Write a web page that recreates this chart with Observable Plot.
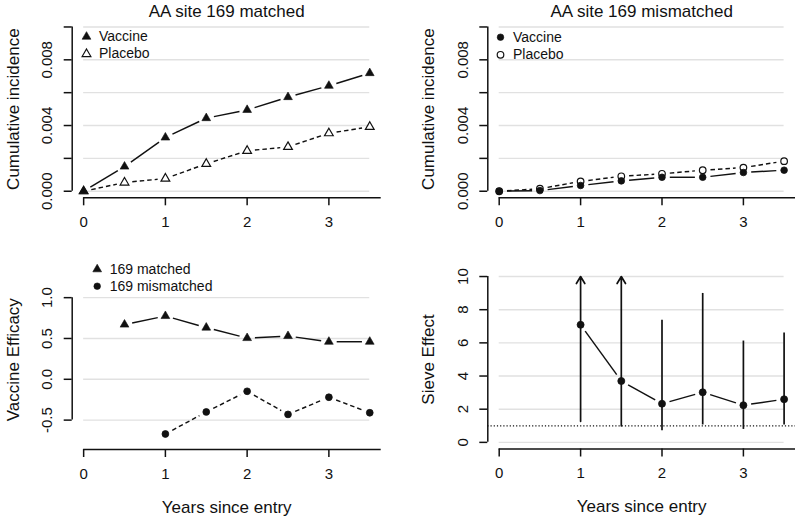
<!DOCTYPE html>
<html>
<head>
<meta charset="utf-8">
<script src="https://cdn.jsdelivr.net/npm/d3@7"></script>
<script src="https://cdn.jsdelivr.net/npm/@observablehq/plot@0.6"></script>
<style>
  html, body { margin: 0; padding: 0; background: #ffffff; }
  #chart { position: relative; width: 800px; height: 521px; background: #ffffff; }
  #chart svg { position: absolute; }
</style>
</head>
<body>
<div id="chart"></div>
<script>
// ---------------- data ----------------
const years = [0, 0.5, 1, 1.5, 2, 2.5, 3, 3.5];

// cumulative incidence, AA site 169 matched
const matchedVaccine = [0, 0.00150, 0.00327, 0.00445, 0.00495, 0.00573, 0.00642, 0.00719];
const matchedPlacebo = [0, 0.00053, 0.00077, 0.00167, 0.00246, 0.00270, 0.00353, 0.00392];

// cumulative incidence, AA site 169 mismatched
const mismatchedVaccine = [0, 0.00004, 0.00035, 0.00063, 0.00085, 0.00085, 0.00114, 0.00128];
const mismatchedPlacebo = [0, 0.00015, 0.00060, 0.00091, 0.00106, 0.00128, 0.00144, 0.00183];

// vaccine efficacy
const veMatched    = [null, 0.67, 0.775, 0.633, 0.505, 0.53, 0.46, 0.46];
const veMismatched = [null, null, -0.67, -0.40, -0.147, -0.43, -0.22, -0.41];

// sieve effect with confidence limits (upper limits of the first two lie beyond the axis)
const sieveYears  = [1, 1.5, 2, 2.5, 3, 3.5];
const sieveEffect = [7.09, 3.70, 2.33, 3.02, 2.24, 2.60];
const sieveLower  = [1.27, 1.00, 0.70, 1.05, 0.78, 1.05];
const sieveUpper  = [Infinity, Infinity, 7.36, 8.98, 6.11, 6.59];
const sieveNull   = [1];

// ticks and labels
const xTicks = [0, 1, 2, 3];
const incidenceTicks  = [0, 0.002, 0.004, 0.006, 0.008, 0.010];
const incidenceLabels = ["0.000", "", "0.004", "", "0.008", ""];
const veTicks  = [-0.5, 0, 0.5, 1];
const veLabels = ["-0.5", "0.0", "0.5", "1.0"];
const sieveTicks  = [0, 2, 4, 6, 8, 10];
const sieveLabels = ["0", "2", "4", "6", "8", "10"];

const titles = ["AA site 169 matched", "AA site 169 mismatched"];
const yTitles = ["Cumulative incidence", "Cumulative incidence", "Vaccine Efficacy", "Sieve Effect"];
const xTitle = "Years since entry";
const armLabels = ["Vaccine", "Placebo"];
const veLabelsLegend = ["169 matched", "169 mismatched"];

// ---------------- style ----------------
const INK = "#111111";
const GRID = "#e1e1e1";
const FONT = "'Liberation Sans', Arial, Helvetica, sans-serif";
const LW = 1.45;
const AXW = 1.5;
const GAP = 7.8;

function series(xs, ys) {
  return xs.map((x, i) => ({x, y: ys[i]})).filter(d => d.y != null);
}
function gapLine(pts, dash) {
  const segs = d3.pairs(pts).map(([a, b]) => ({x1: a.x, y1: a.y, x2: b.x, y2: b.y}));
  return Plot.arrow(segs, {
    x1: "x1", y1: "y1", x2: "x2", y2: "y2",
    headLength: 0, insetStart: GAP, insetEnd: GAP, bend: 0,
    stroke: INK, strokeWidth: LW, strokeDasharray: dash || null, strokeLinecap: "butt"
  });
}
function legendEntry(label, symbol, filled, dx, dy, r) {
  return [
    Plot.dot([label], {frameAnchor: "top-left", dx, dy, symbol, r,
      fill: filled ? INK : "none", stroke: INK, strokeWidth: filled ? 0.6 : 1.2}),
    Plot.text([label], {text: d => d, frameAnchor: "top-left", dx: dx + 12.5, dy,
      textAnchor: "start", lineAnchor: "middle", fontSize: 14})
  ];
}

function drawPanel(cfg) {
  const {left, top, width, height, mL, mR, mT, mB, xDomain, yDomain, yTicks, yLabels,
         title, yTitle, xLabel, marks} = cfg;
  const yLab = yTicks.map((v, i) => ({v, t: yLabels[i]})).filter(d => d.t);
  const svg = Plot.plot({
    width, height,
    marginLeft: mL, marginRight: mR, marginTop: mT, marginBottom: mB,
    x: {domain: xDomain},
    y: {domain: yDomain},
    style: {fontFamily: FONT, fontSize: "15px", color: INK, background: "transparent", overflow: "visible"},
    marks: [
      Plot.ruleY(yTicks, {y: d => d, x1: d3.min(years), x2: d3.max(years), stroke: GRID, strokeWidth: 1.4}),
      ...marks,
      Plot.ruleX([xDomain[0]], {y1: yTicks[0], y2: yTicks[yTicks.length - 1], stroke: INK, strokeWidth: AXW}),
      Plot.ruleY([yDomain[0]], {x1: xTicks[0], x2: xDomain[1], stroke: INK, strokeWidth: AXW}),
      Plot.axisX({ticks: xTicks, tickSize: 8, tickFormat: () => "", strokeWidth: AXW}),
      Plot.axisY({ticks: yTicks, tickSize: 8, tickFormat: () => "", strokeWidth: AXW}),
      Plot.text(xTicks, {x: d => d, text: d => String(d), frameAnchor: "bottom", dy: 24.4,
        textAnchor: "middle", lineAnchor: "middle", fontSize: 15}),
      Plot.text(yLab, {y: "v", text: "t", frameAnchor: "left", dx: -25, rotate: -90,
        textAnchor: "middle", lineAnchor: "middle", fontSize: 15}),
      title ? Plot.text([title], {text: d => d, frameAnchor: "top", dy: -8.7, fontSize: 17,
        textAnchor: "middle", lineAnchor: "middle"}) : null,
      Plot.text([yTitle], {text: d => d, frameAnchor: "left", dx: -59, rotate: -90, fontSize: 17,
        textAnchor: "middle", lineAnchor: "middle"}),
      xLabel ? Plot.text([xLabel], {text: d => d, frameAnchor: "bottom", dy: 57.7, fontSize: 17,
        textAnchor: "middle", lineAnchor: "middle"}) : null
    ]
  });
  svg.style.left = left + "px";
  svg.style.top = top + "px";
  document.getElementById("chart").appendChild(svg);
}

const incDomain = [-0.0004, 0.0104];
const xDom = [-0.14, 3.64];

// Panel 1: matched cumulative incidence
const p1v = series(years, matchedVaccine), p1p = series(years, matchedPlacebo);
drawPanel({
  left: 0, top: 0, width: 400, height: 260, mL: 71.7, mR: 19.3, mT: 19.9, mB: 62.7,
  xDomain: xDom, yDomain: incDomain, yTicks: incidenceTicks, yLabels: incidenceLabels,
  title: titles[0], yTitle: yTitles[0],
  marks: [
    gapLine(p1v), gapLine(p1p, "4.5,3"),
    Plot.dot(p1v, {x: "x", y: "y", symbol: "triangle", r: 3.25, fill: INK, stroke: INK, strokeWidth: 0.6}),
    Plot.dot(p1p, {x: "x", y: "y", symbol: "triangle", r: 3.25, fill: "none", stroke: INK, strokeWidth: 1.2}),
    ...legendEntry(armLabels[0], "triangle", true, 14.3, 16.3, 3.25),
    ...legendEntry(armLabels[1], "triangle", false, 14.3, 33.6, 3.25)
  ]
});

// Panel 2: mismatched cumulative incidence
const p2v = series(years, mismatchedVaccine), p2p = series(years, mismatchedPlacebo);
drawPanel({
  left: 400, top: 0, width: 400, height: 260, mL: 87.3, mR: 5, mT: 19.9, mB: 62.7,
  xDomain: xDom, yDomain: incDomain, yTicks: incidenceTicks, yLabels: incidenceLabels,
  title: titles[1], yTitle: yTitles[1],
  marks: [
    gapLine(p2v), gapLine(p2p, "4.5,3"),
    Plot.dot(p2v, {x: "x", y: "y", r: 3.3, fill: INK, stroke: INK, strokeWidth: 0.8}),
    Plot.dot(p2p, {x: "x", y: "y", r: 3.3, fill: "none", stroke: INK, strokeWidth: 1.2}),
    ...legendEntry(armLabels[0], "circle", true, 12.7, 16.8, 3.3),
    ...legendEntry(armLabels[1], "circle", false, 12.7, 34.4, 3.3)
  ]
});

// Panel 3: vaccine efficacy
const p3m = series(years, veMatched), p3x = series(years, veMismatched);
drawPanel({
  left: 0, top: 260, width: 400, height: 261, mL: 71.7, mR: 19.3, mT: 9.4, mB: 72,
  xDomain: xDom, yDomain: [-0.86, 1.34], yTicks: veTicks, yLabels: veLabels,
  yTitle: yTitles[2], xLabel: xTitle,
  marks: [
    gapLine(p3m), gapLine(p3x, "4.5,3"),
    Plot.dot(p3m, {x: "x", y: "y", symbol: "triangle", r: 3.25, fill: INK, stroke: INK, strokeWidth: 0.6}),
    Plot.dot(p3x, {x: "x", y: "y", r: 3.4, fill: INK, stroke: INK, strokeWidth: 0.8}),
    ...legendEntry(veLabelsLegend[0], "triangle", true, 25, -0.6, 3.25),
    ...legendEntry(veLabelsLegend[1], "circle", true, 25, 16.3, 3.3)
  ]
});

// Panel 4: sieve effect
const sieve = sieveYears.map((x, i) => ({x, est: sieveEffect[i], lo: sieveLower[i], hi: sieveUpper[i]}));
const sieveTop = sieveTicks[sieveTicks.length - 1];
const p4 = series(sieveYears, sieveEffect);
drawPanel({
  left: 400, top: 260, width: 400, height: 261, mL: 87.3, mR: 5, mT: 9.4, mB: 72.5,
  xDomain: xDom, yDomain: [-0.4, 10.4], yTicks: sieveTicks, yLabels: sieveLabels,
  yTitle: yTitles[3], xLabel: xTitle,
  marks: [
    Plot.ruleY(sieveNull, {y: d => d, stroke: INK, strokeWidth: 1.3, strokeDasharray: "1.2,2"}),
    Plot.ruleX(sieve.filter(d => d.hi <= sieveTop), {x: "x", y1: "lo", y2: "hi", stroke: INK, strokeWidth: 1.7}),
    Plot.arrow(sieve.filter(d => d.hi > sieveTop), {x1: "x", x2: "x", y1: "lo", y2: () => sieveTop,
      stroke: INK, strokeWidth: 1.7, headLength: 7.2, headAngle: 62}),
    gapLine(p4),
    Plot.dot(p4, {x: "x", y: "y", r: 3.5, fill: INK, stroke: INK, strokeWidth: 0.8})
  ]
});
</script>
</body>
</html>
